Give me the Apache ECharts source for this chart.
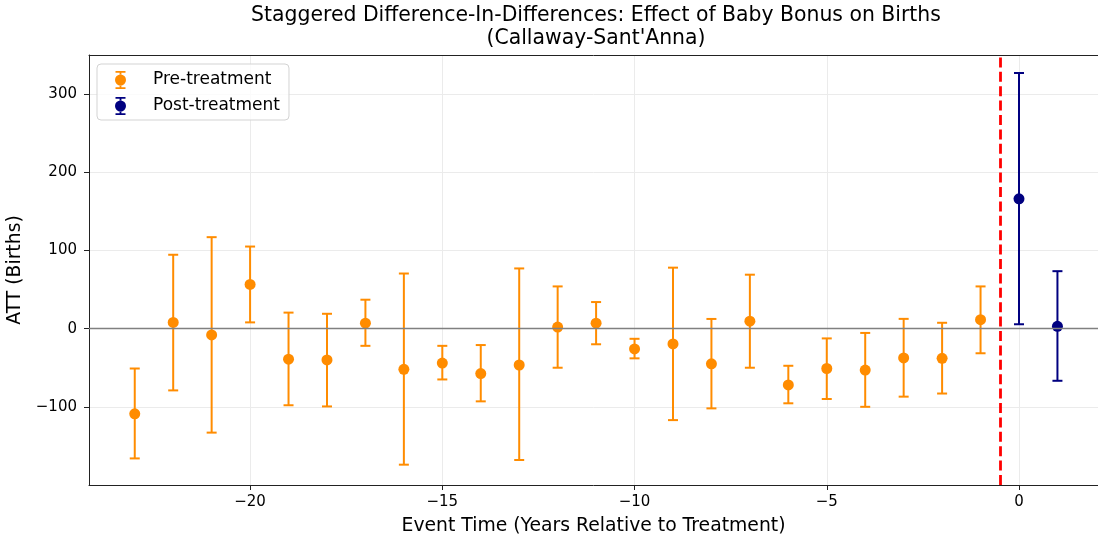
<!DOCTYPE html>
<html><head><meta charset="utf-8">
<script src="https://cdn.jsdelivr.net/npm/echarts@6/dist/echarts.min.js"></script>
<style>html,body{margin:0;padding:0;background:#fff}#c{width:1098px;height:542px}</style>
</head><body><div id="c"></div>
<script>
// ---- data ----
const preTimes = [-23,-22,-21,-20,-19,-18,-17,-16,-15,-14,-13,-12,-11,-10,-9,-8,-7,-6,-5,-4,-3,-2,-1];
const preAtt   = [-109,8,-8,56.5,-39,-40,7,-52,-44,-57.5,-46.5,2,7,-26,-19.5,-45,9.5,-72,-51,-53,-37.5,-38,11.5];
const preUpper = [-51,94.5,117,105,20.5,19,37,70.5,-22,-21,77,54,34,-13,78,12.4,69,-47.5,-12.5,-5.5,12.5,7.5,54];
const preLower = [-166,-79,-133,8,-98,-99.5,-22,-174,-65,-93,-168,-50,-20,-38,-117,-102,-50,-95.5,-90,-100,-87,-83,-31.5];
const postTimes = [0,1];
const postAtt   = [166,3];
const postUpper = [327,73.5];
const postLower = [5.6,-66.7];
const xTickValues = [-20,-15,-10,-5,0];
const yTickValues = [-100,0,100,200,300];
const treatmentLine = -0.5;

const FONT = 'DejaVu Sans';
const ORANGE = '#FF8C00', NAVY = '#000080';

function rows(t,a,lo,hi){ return t.map((x,i)=>[x,a[i],lo[i],hi[i]]); }
function fmt(v){ return v < 0 ? '\u2212' + Math.abs(v) : String(v); }

function renderErr(color){
  return function(params, api){
    const x = api.value(0), y = api.value(1), lo = api.value(2), hi = api.value(3);
    const p = api.coord([x,y]), pl = api.coord([x,lo]), ph = api.coord([x,hi]);
    const cw = 5;
    const ls = {stroke: color, lineWidth: 2};
    return {type:'group', children:[
      {type:'line', shape:{x1:pl[0],y1:pl[1],x2:ph[0],y2:ph[1]}, style:ls},
      {type:'line', shape:{x1:pl[0]-cw,y1:pl[1],x2:pl[0]+cw,y2:pl[1]}, style:ls},
      {type:'line', shape:{x1:ph[0]-cw,y1:ph[1],x2:ph[0]+cw,y2:ph[1]}, style:ls},
      {type:'circle', shape:{cx:p[0],cy:p[1],r:5.5}, style:{fill:color}}
    ]};
  };
}

const ICON = 'path://M0.5,0H10.5V1.8H0.5Z M4.6,1.8H6.4V3.7H4.6Z M4.6,14.3H6.4V16.2H4.6Z M0.5,16.2H10.5V18H0.5Z M0,9A5.5,5.5,0,1,0,11,9A5.5,5.5,0,1,0,0,9Z';

const chart = echarts.init(document.getElementById('c'), null, {renderer:'canvas'});
chart.setOption({
  animation: false,
  backgroundColor: '#fff',
  textStyle: {fontFamily: FONT},
  graphic: [{
    type:'text', x: 596, y: 4, z: 10,
    style:{text:'Staggered Difference-In-Differences: Effect of Baby Bonus on Births\n(Callaway-Sant\'Anna)',
      textAlign:'center', font:'20.4px "DejaVu Sans"', lineHeight:23, fill:'#000'}
  }],
  grid: {left: 89, right: 0, top: 55, bottom: 57, show: false, containLabel: false, outerBoundsMode: 'none'},
  legend: {
    orient:'vertical', left: 97, top: 64,
    data:[{name:'Pre-treatment', icon: ICON},{name:'Post-treatment', icon: ICON}],
    itemWidth: 11, itemHeight: 18, itemGap: 8,
    textStyle:{fontSize:17, fontFamily:FONT, color:'#000', padding:[0,0,0,22]},
    borderColor:'#d3d3d3', borderWidth:1, borderRadius:4,
    padding:[7,9,5,18], backgroundColor:'rgba(255,255,255,0.8)'
  },
  xAxis: [{
    type:'value', min:-24.19, max:2.055,
    name:'Event Time (Years Relative to Treatment)', nameLocation:'middle', nameGap:32,
    nameTextStyle:{fontSize:18.8, fontFamily:FONT, color:'#000'},
    axisLine:{show:true, onZero:false, lineStyle:{color:'#222', width:1}},
    axisTick:{show:true, inside:false, length:5, customValues: xTickValues, lineStyle:{color:'#222'}},
    axisLabel:{customValues: xTickValues, formatter: fmt, fontSize:15, fontFamily:FONT, color:'#000', margin:10},
    splitLine:{show:true, lineStyle:{color:'#ebebeb', width:1}}
  },{
    type:'value', position:'top', min:-24.19, max:2.055,
    axisLine:{show:true, onZero:false, lineStyle:{color:'#222', width:1}},
    axisTick:{show:false}, axisLabel:{show:false}, splitLine:{show:false}
  }],
  yAxis: {
    type:'value', min:-200, max:350, interval:100,
    name:'ATT (Births)', nameLocation:'middle', nameGap:58, nameRotate:90,
    nameTextStyle:{fontSize:18.8, fontFamily:FONT, color:'#000'},
    axisLine:{show:true, onZero:false, lineStyle:{color:'#222', width:1}},
    axisTick:{show:true, inside:false, length:5, customValues: yTickValues, lineStyle:{color:'#222'}},
    axisLabel:{customValues: yTickValues, formatter: fmt, fontSize:15, fontFamily:FONT, color:'#000', margin:12},
    splitLine:{show:true, lineStyle:{color:'#ebebeb', width:1}}
  },
  series: [
    {
      type:'line', data:[], silent:true, z:1,
      markLine:{silent:true, symbol:'none', label:{show:false}, animation:false,
        data:[{yAxis:0, lineStyle:{color:'#808080', width:1.3, type:'solid'}}]}
    },
    {
      name:'Pre-treatment', type:'custom', z:3, itemStyle:{color:ORANGE},
      encode:{x:0, y:[1,2,3]},
      renderItem: renderErr(ORANGE),
      data: rows(preTimes, preAtt, preLower, preUpper)
    },
    {
      name:'Post-treatment', type:'custom', z:3, itemStyle:{color:NAVY},
      encode:{x:0, y:[1,2,3]},
      renderItem: renderErr(NAVY),
      data: rows(postTimes, postAtt, postLower, postUpper)
    },
    {
      type:'line', data:[], silent:true, z:4,
      markLine:{silent:true, symbol:'none', label:{show:false}, animation:false,
        data:[{xAxis:treatmentLine, lineStyle:{color:'#ff0000', width:2.8, type:[10,4.4]}}]}
    }
  ]
});
</script></body></html>
